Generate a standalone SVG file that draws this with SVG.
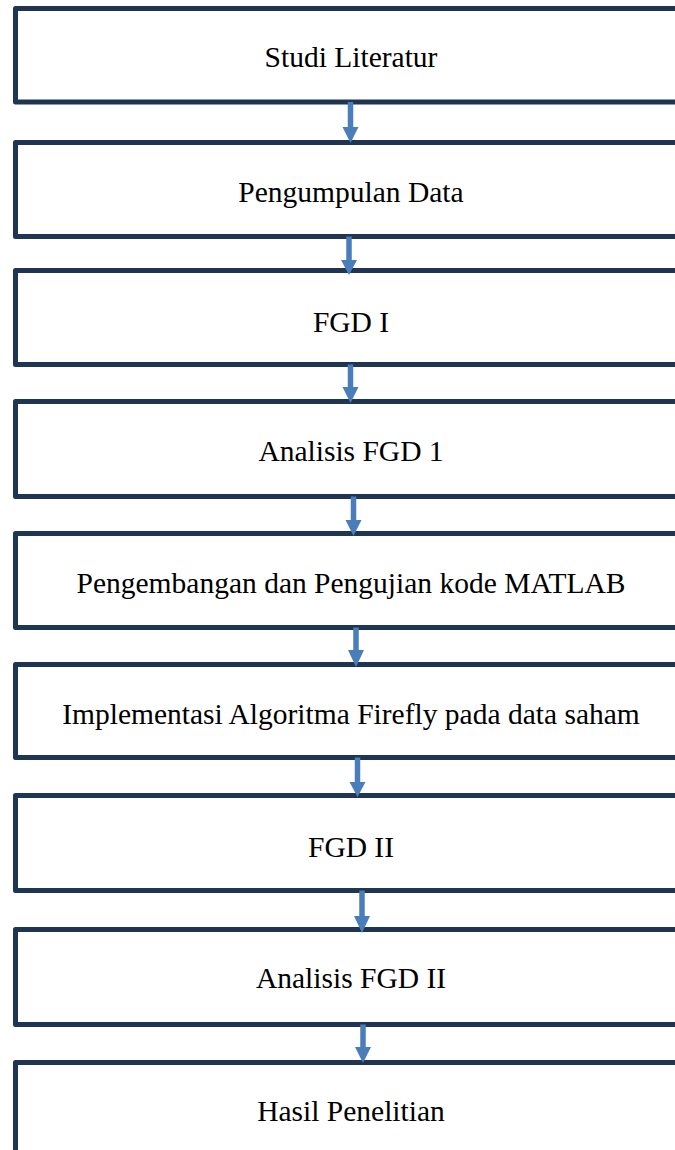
<svg xmlns="http://www.w3.org/2000/svg" width="675" height="1150" viewBox="0 0 675 1150">
<style>
.box{fill:#ffffff;stroke:#1f3551;stroke-width:5;stroke-linejoin:round}
.lbl{font-family:"Liberation Serif","Times New Roman",serif;font-size:29.5px;fill:#000;text-anchor:middle}
.arr{fill:#4a7ebb}
</style>
<rect width="675" height="1150" fill="#ffffff"/>
<g id="node1"><rect class="box" x="15.5" y="8.5" width="700" height="93.5"/><text class="lbl" x="351" y="67">Studi Literatur</text></g>
<g id="node2"><rect class="box" x="15.5" y="142.5" width="700" height="94"/><text class="lbl" x="351" y="202">Pengumpulan Data</text></g>
<g id="node3"><rect class="box" x="15.5" y="270.5" width="700" height="94"/><text class="lbl" x="351" y="332">FGD I</text></g>
<g id="node4"><rect class="box" x="15.5" y="401.5" width="700" height="95"/><text class="lbl" x="351" y="461">Analisis FGD 1</text></g>
<g id="node5"><rect class="box" x="15.5" y="533.5" width="700" height="94"/><text class="lbl" x="351" y="593">Pengembangan dan Pengujian kode MATLAB</text></g>
<g id="node6"><rect class="box" x="15.5" y="664.5" width="700" height="93"/><text class="lbl" x="351" y="724">Implementasi Algoritma Firefly pada data saham</text></g>
<g id="node7"><rect class="box" x="15.5" y="795.5" width="700" height="95"/><text class="lbl" x="351" y="857">FGD II</text></g>
<g id="node8"><rect class="box" x="15.5" y="929.5" width="700" height="95"/><text class="lbl" x="351" y="988">Analisis FGD II</text></g>
<g id="node9"><rect class="box" x="15.5" y="1062.5" width="700" height="100"/><text class="lbl" x="351" y="1121">Hasil Penelitian</text></g>
<g id="connectors">
<polygon class="arr" points="347.75,102 353.25,102 353.25,127 358.5,127 350.5,143 342.5,127 347.75,127"/>
<polygon class="arr" points="346.25,236.5 351.75,236.5 351.75,260 357,260 349,275 341,260 346.25,260"/>
<polygon class="arr" points="347.75,364.5 353.25,364.5 353.25,387 358.5,387 350.5,403 342.5,387 347.75,387"/>
<polygon class="arr" points="350.75,496.5 356.25,496.5 356.25,520 361.5,520 353.5,536 345.5,520 350.75,520"/>
<polygon class="arr" points="353.25,627.5 358.75,627.5 358.75,650 364,650 356,667 348,650 353.25,650"/>
<polygon class="arr" points="354.75,757.5 360.25,757.5 360.25,782 365.5,782 357.5,797 349.5,782 354.75,782"/>
<polygon class="arr" points="359.25,890.5 364.75,890.5 364.75,916 370,916 362,933 354,916 359.25,916"/>
<polygon class="arr" points="360.25,1024.5 365.75,1024.5 365.75,1047 371,1047 363,1063 355,1047 360.25,1047"/>
</g>
</svg>
